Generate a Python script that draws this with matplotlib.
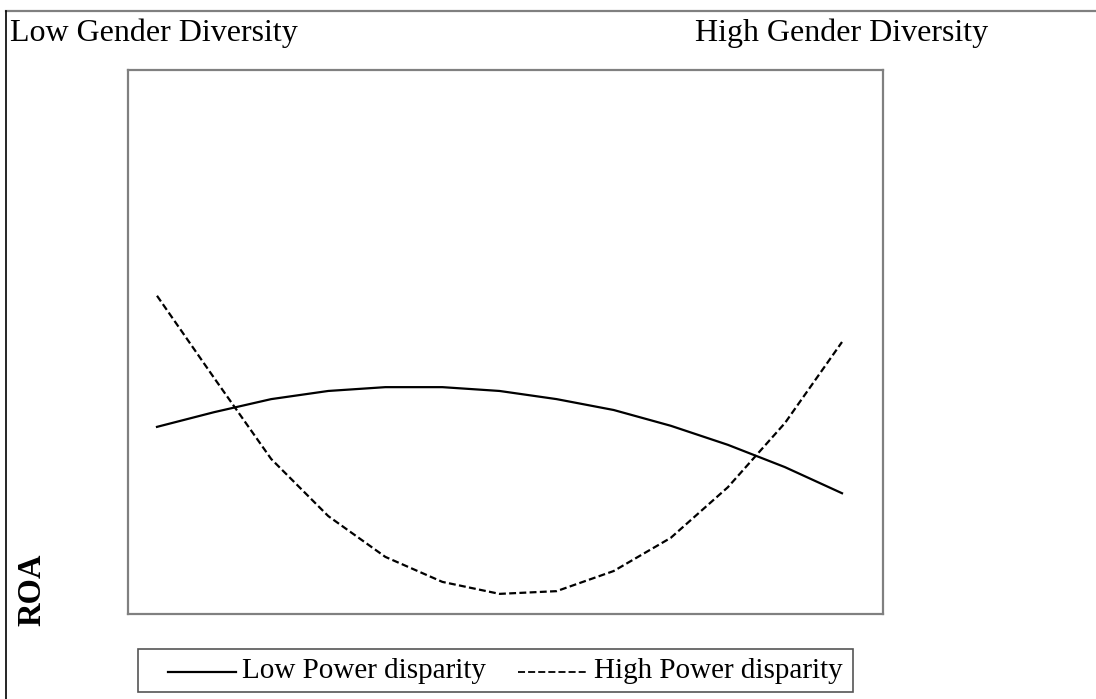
import matplotlib
matplotlib.use("Agg")
import matplotlib.pyplot as plt
from matplotlib.lines import Line2D
from matplotlib.patches import Rectangle

plt.rcParams['font.family'] = ['Liberation Serif', 'DejaVu Serif']

# gender diversity steps (low -> high)
x_steps = list(range(13))
low_power = [3.44, 3.71, 3.95, 4.10, 4.17, 4.17, 4.10, 3.95, 3.75, 3.46, 3.11, 2.70, 2.22]
high_power = [5.85, 4.34, 2.85, 1.80, 1.05, 0.59, 0.37, 0.42, 0.79, 1.40, 2.33, 3.51, 5.00]
series_names = ["Low Power disparity", "High Power disparity"]

W, H = 1096, 699
fig = plt.figure(figsize=(W / 100, H / 100), dpi=100)

def fx(px):
    return px / W

def fy(py):
    return 1 - py / H

# axes box in pixels: left 128, top 70, right 883, bottom 614
ax = fig.add_axes([fx(128), fy(614), 755 / W, 544 / H])
ax.plot(x_steps, low_power, color="black", lw=1.6)
ax.plot(x_steps, high_power, color="black", lw=1.6, dashes=(3.1, 1.5))
ax.set_xlim(-0.508, 12.718)
ax.set_ylim(0, 10)
ax.set_xticks([])
ax.set_yticks([])
for s in ax.spines.values():
    s.set_color("#808080")
    s.set_linewidth(1.6)

# outer frame (top and left only)
fig.add_artist(Line2D([fx(6), 1], [fy(10.5), fy(10.5)], color="#808080", lw=1.6))
fig.add_artist(Line2D([fx(6), fx(6)], [0, fy(10.5)], color="black", lw=1.2))

fig.text(fx(10), fy(33), "Low Gender Diversity", fontsize=23, va="center", ha="left")
fig.text(fx(988), fy(33), "High Gender Diversity", fontsize=23, va="center", ha="right")
fig.text(fx(32), fy(590), "ROA", fontsize=23.5, fontweight="bold", rotation=90,
         va="center", ha="center")

# legend box drawn by hand
fig.add_artist(Rectangle((fx(138), fy(692)), 715 / W, 43 / H, transform=fig.transFigure,
                         fill=False, edgecolor="#555555", lw=1.2))
fig.add_artist(Line2D([fx(168), fx(236)], [fy(672), fy(672)], color="black", lw=1.6))
fig.add_artist(Line2D([fx(518), fx(588)], [fy(672), fy(672)], color="black", lw=1.3,
                      dashes=(3.9, 1.7)))
fig.text(fx(242), fy(671), series_names[0], fontsize=21, va="center", ha="left")
fig.text(fx(594), fy(671), series_names[1], fontsize=21, va="center", ha="left")

fig.savefig("out.png", dpi=100)
